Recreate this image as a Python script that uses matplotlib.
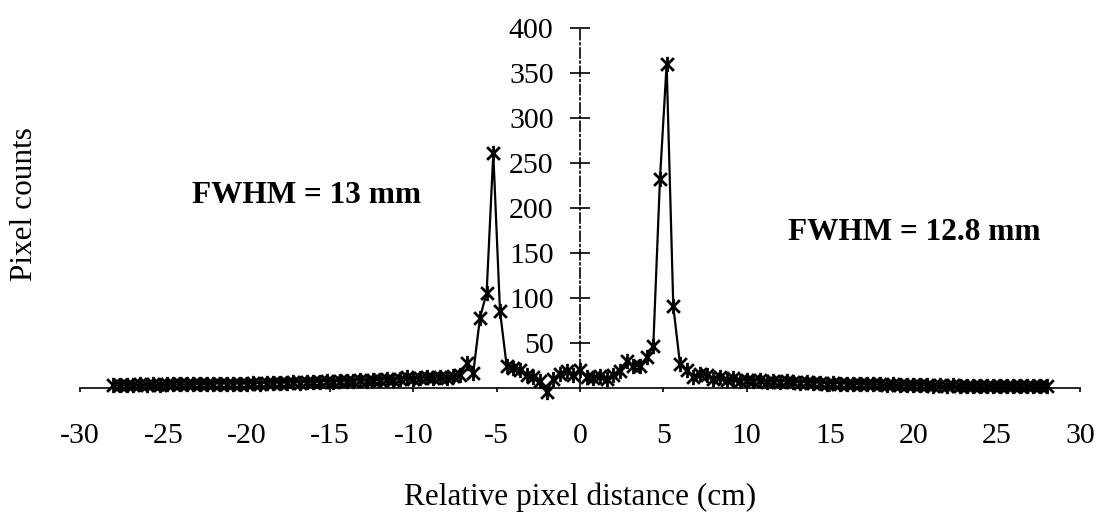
import numpy as np
import matplotlib.pyplot as plt
from matplotlib.path import Path

plt.rcParams['font.family'] = ['Liberation Serif', 'DejaVu Serif']

# profile sampled every 0.4 cm across the two sources
distance = [
    -28.0, -27.6, -27.2, -26.8, -26.4, -26.0, -25.6, -25.2, -24.8, -24.4,
    -24.0, -23.6, -23.2, -22.8, -22.4, -22.0, -21.6, -21.2, -20.8, -20.4,
    -20.0, -19.6, -19.2, -18.8, -18.4, -18.0, -17.6, -17.2, -16.8, -16.4,
    -16.0, -15.6, -15.2, -14.8, -14.4, -14.0, -13.6, -13.2, -12.8, -12.4,
    -12.0, -11.6, -11.2, -10.8, -10.4, -10.0, -9.6, -9.2, -8.8, -8.4,
    -8.0, -7.6, -7.2, -6.8, -6.4, -6.0, -5.6, -5.2, -4.8, -4.4,
    -4.0, -3.6, -3.2, -2.8, -2.4, -2.0, -1.6, -1.2, -0.8, -0.4,
    0.0, 0.4, 0.8, 1.2, 1.6, 2.0, 2.4, 2.8, 3.2, 3.6,
    4.0, 4.4, 4.8, 5.2, 5.6, 6.0, 6.4, 6.8, 7.2, 7.6,
    8.0, 8.4, 8.8, 9.2, 9.6, 10.0, 10.4, 10.8, 11.2, 11.6,
    12.0, 12.4, 12.8, 13.2, 13.6, 14.0, 14.4, 14.8, 15.2, 15.6,
    16.0, 16.4, 16.8, 17.2, 17.6, 18.0, 18.4, 18.8, 19.2, 19.6,
    20.0, 20.4, 20.8, 21.2, 21.6, 22.0, 22.4, 22.8, 23.2, 23.6,
    24.0, 24.4, 24.8, 25.2, 25.6, 26.0, 26.4, 26.8, 27.2, 27.6,
    28.0,
]
counts = [
    3, 3, 3, 3, 4, 3, 4, 3, 4, 4,
    4, 4, 4, 5, 4, 5, 5, 5, 5, 5,
    5, 6, 5, 6, 6, 6, 6, 7, 6, 7,
    7, 7, 8, 7, 8, 8, 8, 9, 8, 9,
    9, 10, 9, 10, 12, 10, 11, 12, 11, 12,
    11, 13, 14, 28, 17, 78, 106, 261, 86, 25,
    22, 20, 15, 12, 8, -4, 10, 16, 19, 14,
    20, 12, 11, 13, 10, 15, 19, 30, 25, 24,
    34, 47, 232, 360, 91, 27, 20, 12, 16, 14,
    10, 12, 9, 11, 8, 9, 8, 9, 7, 8,
    7, 8, 7, 6, 7, 6, 6, 5, 6, 5,
    5, 4, 5, 4, 4, 4, 3, 4, 3, 3,
    3, 3, 3, 2, 3, 2, 3, 2, 2, 2,
    2, 2, 2, 2, 2, 2, 2, 2, 2, 2,
    2,
]

x_ticks = [-30, -25, -20, -15, -10, -5, 0, 5, 10, 15, 20, 25, 30]
y_ticks = [50, 100, 150, 200, 250, 300, 350, 400]

# star marker: an x with a vertical stroke through it
star = Path([(-1, -1), (1, 1), (-1, 1), (1, -1), (0, -1.2), (0, 1.2)],
            [Path.MOVETO, Path.LINETO, Path.MOVETO, Path.LINETO,
             Path.MOVETO, Path.LINETO])

fig = plt.figure(figsize=(11.03, 5.23), dpi=100)
ax = fig.add_axes([0.0725, 0.258, 0.9066, 0.688])

ax.plot(distance, counts, color='black', lw=1.6, marker=star, ms=11,
        mec='black', mfc='none', mew=2.0, clip_on=False, zorder=3)

ax.set_xlim(-30, 30)
ax.set_ylim(0, 400)

for side in ['top', 'right']:
    ax.spines[side].set_visible(False)
ax.spines['left'].set_position(('data', 0))
ax.spines['left'].set_linestyle((0, (6, 2, 1, 2)))
ax.spines['left'].set_linewidth(1.2)
ax.spines['bottom'].set_linewidth(1.2)

ax.set_xticks(x_ticks)
ax.set_xticklabels([str(v) for v in x_ticks])
ax.set_yticks(y_ticks)
ax.set_yticklabels([str(v) for v in y_ticks])
ax.tick_params(axis='x', direction='out', length=3, width=1.2, pad=22,
               labelsize=21.5)
ax.tick_params(axis='y', direction='inout', length=14, width=1.2, pad=12,
               labelsize=21.5)

fig.text(0.526, 0.05, 'Relative pixel distance (cm)', ha='center',
         va='center', fontsize=22.5)
fig.text(0.022, 0.61, 'Pixel counts', rotation=90, ha='center',
         va='center', fontsize=22.5)

ax.text(-23.3, 214, 'FWHM = 13 mm', fontsize=22.5, fontweight='bold',
        ha='left', va='center')
ax.text(12.5, 173, 'FWHM = 12.8 mm', fontsize=22.5, fontweight='bold',
        ha='left', va='center')

fig.savefig('out.png', dpi=100, facecolor='white')
